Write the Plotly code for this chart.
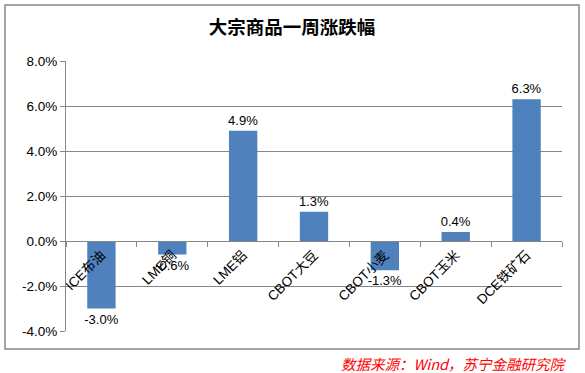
import plotly.graph_objects as go

categories = ["ICE布油", "LME铜", "LME铝", "CBOT大豆", "CBOT小麦", "CBOT玉米", "DCE铁矿石"]
values = [-3.0, -0.6, 4.9, 1.3, -1.3, 0.4, 6.3]
y_ticks = [-4, -2, 0, 2, 4, 6, 8]
title_text = "大宗商品一周涨跌幅"
source_text = "数据来源：Wind，苏宁金融研究院"

W, H = 585, 373
L, R, T, B = 66, 23, 61, 42
pw, ph = W - L - R, H - T - B

def px_x(p):
    return (p - L) / pw

def px_y(p):
    return (H - B - p) / ph

fig = go.Figure(go.Bar(
    x=categories, y=values,
    marker=dict(color="#4F81BD", line=dict(width=0)),
    text=[f"{v:.1f}%" for v in values],
    textposition="outside",
    constraintext="none",
    textfont=dict(family="Liberation Sans, Arial", size=13, color="#000000"),
    cliponaxis=False,
))

ymin, ymax = -4, 8
fig.update_layout(
    width=W, height=H,
    margin=dict(l=L, r=R, t=T, b=B, autoexpand=False),
    paper_bgcolor="white", plot_bgcolor="white",
    bargap=0.6,
    showlegend=False,
    title=dict(text=f"<b>{title_text}</b>", x=292 / W, y=1 - 28 / H,
               xanchor="center", yanchor="middle",
               font=dict(family="Noto Sans CJK SC", size=18.5, color="#000000")),
    xaxis=dict(
        anchor="free", position=(0 - ymin) / (ymax - ymin),
        showline=True, linecolor="#868686", linewidth=1,
        ticks="outside", tickson="boundaries", ticklen=5, tickcolor="#868686",
        tickangle=-45, showgrid=False, automargin=False,
        tickfont=dict(family="Liberation Sans, Noto Sans CJK SC", size=13.5, color="#000000"),
    ),
    yaxis=dict(
        range=[ymin, ymax], tickvals=y_ticks, ticktext=[f"{v:.1f}%" for v in y_ticks],
        showline=True, linecolor="#868686", linewidth=1,
        ticks="outside", ticklen=5, tickcolor="#868686",
        showgrid=True, gridcolor="#868686", gridwidth=1, zeroline=False,
        automargin=False,
        tickfont=dict(family="Liberation Sans, Arial", size=13.5, color="#000000"),
    ),
    shapes=[dict(type="rect", xref="paper", yref="paper",
                 x0=px_x(5), x1=px_x(579), y0=px_y(349), y1=px_y(5),
                 line=dict(color="#868686", width=1.5), layer="below")],
    annotations=[dict(text=f"<i>{source_text}</i>", xref="paper", yref="paper",
                      x=px_x(569), y=px_y(363), xanchor="right", yanchor="middle",
                      showarrow=False,
                      font=dict(family="Noto Sans CJK SC", size=14.5, color="#FF0000"))],
)

fig.write_html("out.html", config={"displayModeBar": False},
               post_script="document.body.style.margin='0';document.body.style.overflow='hidden';")
